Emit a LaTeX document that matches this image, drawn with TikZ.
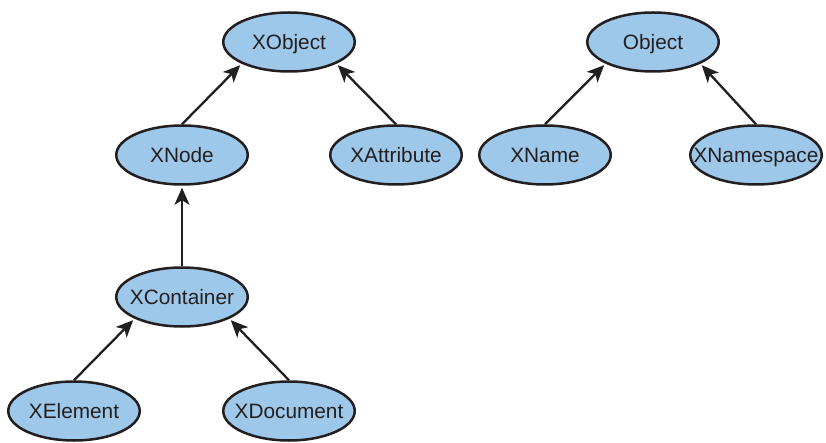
\documentclass[tikz,border=0pt]{standalone}
\usepackage{fontspec}
\setmainfont{Liberation Sans}
\usetikzlibrary{shapes.geometric,arrows.meta}
\definecolor{clsfill}{RGB}{158,200,234}
\definecolor{ink}{RGB}{35,31,32}
\newcommand\clsname[1]{\makebox[0pt]{#1}}
\begin{document}
\begin{tikzpicture}[x=1pt,y=-1pt,
  cls/.style={ellipse, draw=ink, fill=clsfill, line width=2.5pt,
    minimum width=131.5pt, minimum height=59pt, inner sep=0pt,
    text=ink, font=\fontsize{20.8pt}{24pt}\selectfont,
    text height=14.8pt, text depth=0pt},
  inh/.style={draw=ink, line width=2.3pt,
    -{Stealth[length=17pt,width=15pt,inset=4.5pt]}, shorten >=2pt}]
\useasboundingbox (0,0) rectangle (826,443);
\node[cls] (xobj) at (289,42) {\clsname{XObject}};
\node[cls] (xnode) at (182,155) {\clsname{XNode}};
\node[cls] (xattr) at (396,155) {\clsname{XAttribute}};
\node[cls] (obj) at (653,42) {\clsname{Object}};
\node[cls] (xname) at (545,155) {\clsname{XName}};
\node[cls] (xns) at (756,155) {\clsname{XNamespace}};
\node[cls] (xcont) at (182,297) {\clsname{XContainer}};
\node[cls] (xel) at (74,411) {\clsname{XElement}};
\node[cls] (xdoc) at (289,411) {\clsname{XDocument}};
\draw[inh] (xnode.north) -- (xobj.south west);
\draw[inh] (xattr.north) -- (xobj.south east);
\draw[inh] (xname.north) -- (obj.south west);
\draw[inh] (xns.north) -- (obj.south east);
\draw[inh] (xcont.north) -- (xnode.south);
\draw[inh] (xel.north) -- (xcont.south west);
\draw[inh] (xdoc.north) -- (xcont.south east);
\end{tikzpicture}
\end{document}
